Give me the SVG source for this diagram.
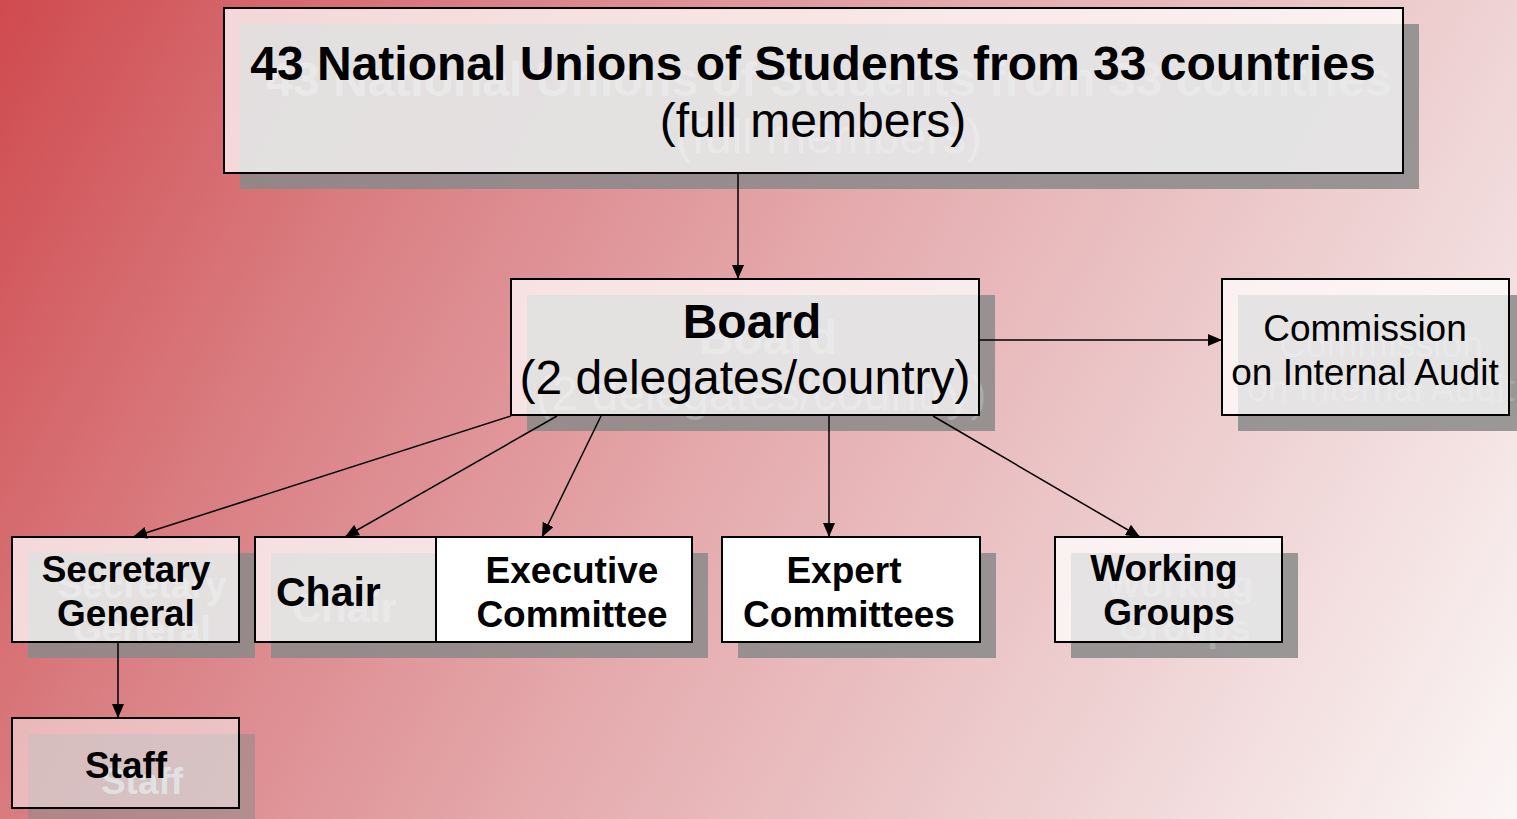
<svg xmlns="http://www.w3.org/2000/svg" width="1517" height="819" viewBox="0 0 1517 819">
<defs>
  <linearGradient id="bg" gradientUnits="userSpaceOnUse" x1="0" y1="0" x2="1517" y2="819">
    <stop offset="0" stop-color="#cf4a4e"/>
    <stop offset="0.25" stop-color="#da8084"/>
    <stop offset="0.5" stop-color="#e5abae"/>
    <stop offset="0.75" stop-color="#eed0d1"/>
    <stop offset="1" stop-color="#fbf6f6"/>
  </linearGradient>
  <marker id="arr" viewBox="0 0 14 12" refX="14" refY="6" markerWidth="14" markerHeight="12" markerUnits="userSpaceOnUse" orient="auto">
    <path d="M0,0 L14,6 L0,12 Z" fill="#000"/>
  </marker>
  <style>
    text { font-family: "Liberation Sans", Arial, Helvetica, sans-serif; fill: #000; }
    .b { font-weight: bold; }
    .ghost { fill: #a9abad; }
    .shadow { fill: #8a8a8a; fill-opacity: 0.85; }
    .front { fill: #ffffff; fill-opacity: 0.74; stroke: #000; stroke-width: 2; }
    .solid { fill: #ffffff; stroke: #000; stroke-width: 2; }
    .conn line { stroke: #000; stroke-width: 1.5; marker-end: url(#arr); }
  </style>
</defs>
<rect x="0" y="0" width="1517" height="819" fill="url(#bg)"/>

<g id="node-members">
  <rect class="shadow" x="240" y="24" width="1179" height="165"/>
  <text class="ghost b" x="829" y="96" font-size="48" text-anchor="middle">43 National Unions of Students from 33 countries</text>
  <text class="ghost" x="829" y="153" font-size="48" text-anchor="middle">(full members)</text>
  <rect class="front" x="224" y="8" width="1179" height="165"/>
  <text class="b" x="813" y="80" font-size="48" text-anchor="middle">43 National Unions of Students from 33 countries</text>
  <text x="813" y="137" font-size="48" text-anchor="middle">(full members)</text>
</g>

<g id="node-board">
  <rect class="shadow" x="527" y="295" width="468" height="136"/>
  <text class="ghost b" x="768" y="354" font-size="48" text-anchor="middle">Board</text>
  <text class="ghost" x="761" y="410" font-size="48" text-anchor="middle">(2 delegates/country)</text>
  <rect class="front" x="511" y="279" width="468" height="136"/>
  <text class="b" x="752" y="338" font-size="48" text-anchor="middle">Board</text>
  <text x="745" y="394" font-size="48" text-anchor="middle">(2 delegates/country)</text>
</g>

<g id="node-audit">
  <rect class="shadow" x="1238" y="295" width="287" height="136"/>
  <text class="ghost" x="1381" y="357" font-size="37" text-anchor="middle">Commission</text>
  <text class="ghost" x="1381" y="401" font-size="37" text-anchor="middle">on Internal Audit</text>
  <rect class="front" x="1222" y="279" width="287" height="136"/>
  <text x="1365" y="341" font-size="37" text-anchor="middle">Commission</text>
  <text x="1365" y="385" font-size="37" text-anchor="middle">on Internal Audit</text>
</g>

<g id="node-secgen">
  <rect class="shadow" x="28" y="553" width="227" height="105"/>
  <text class="ghost b" x="142" y="598" font-size="37" text-anchor="middle">Secretary</text>
  <text class="ghost b" x="142" y="642" font-size="37" text-anchor="middle">General</text>
  <rect class="front" x="12" y="537" width="227" height="105"/>
  <text class="b" x="126" y="582" font-size="37" text-anchor="middle">Secretary</text>
  <text class="b" x="126" y="626" font-size="37" text-anchor="middle">General</text>
</g>

<g id="node-chair">
  <rect class="shadow" x="271" y="553" width="181" height="105"/>
  <text class="ghost b" x="292" y="622" font-size="41">Chair</text>
  <rect class="front" x="255" y="537" width="181" height="105"/>
  <text class="b" x="276" y="606" font-size="41">Chair</text>
</g>

<g id="node-executive">
  <rect class="shadow" x="452" y="553" width="256" height="105"/>
  <rect class="solid" x="436" y="537" width="256" height="105"/>
  <text class="b" x="572" y="583" font-size="37" text-anchor="middle">Executive</text>
  <text class="b" x="572" y="627" font-size="37" text-anchor="middle">Committee</text>
</g>

<g id="node-expert">
  <rect class="shadow" x="738" y="553" width="258" height="105"/>
  <rect class="solid" x="722" y="537" width="258" height="105"/>
  <text class="b" x="844" y="583" font-size="37" text-anchor="middle">Expert</text>
  <text class="b" x="849" y="627" font-size="37" text-anchor="middle">Committees</text>
</g>

<g id="node-working">
  <rect class="shadow" x="1071" y="553" width="227" height="105"/>
  <text class="ghost b" x="1180" y="597" font-size="37" text-anchor="middle">Working</text>
  <text class="ghost b" x="1185" y="641" font-size="37" text-anchor="middle">Groups</text>
  <rect class="front" x="1055" y="537" width="227" height="105"/>
  <text class="b" x="1164" y="581" font-size="37" text-anchor="middle">Working</text>
  <text class="b" x="1169" y="625" font-size="37" text-anchor="middle">Groups</text>
</g>

<g id="node-staff">
  <rect class="shadow" x="28" y="734" width="227" height="90" style="fill-opacity:0.5"/>
  <text class="ghost b" x="142" y="794" font-size="37" text-anchor="middle" style="fill:#c3c7c8">Staff</text>
  <rect class="front" x="12" y="718" width="227" height="90" style="fill-opacity:0.48"/>
  <text class="b" x="126" y="778" font-size="37" text-anchor="middle">Staff</text>
</g>

<g id="connectors" class="conn">
  <line x1="738" y1="173" x2="738" y2="279"/>
  <line x1="979" y1="340" x2="1222" y2="340"/>
  <line x1="511" y1="416" x2="133" y2="537"/>
  <line x1="557" y1="416" x2="345" y2="537"/>
  <line x1="601" y1="416" x2="542" y2="537"/>
  <line x1="829" y1="416" x2="829" y2="537"/>
  <line x1="933" y1="416" x2="1140" y2="537"/>
  <line x1="118" y1="642" x2="118" y2="718"/>
</g>
</svg>
